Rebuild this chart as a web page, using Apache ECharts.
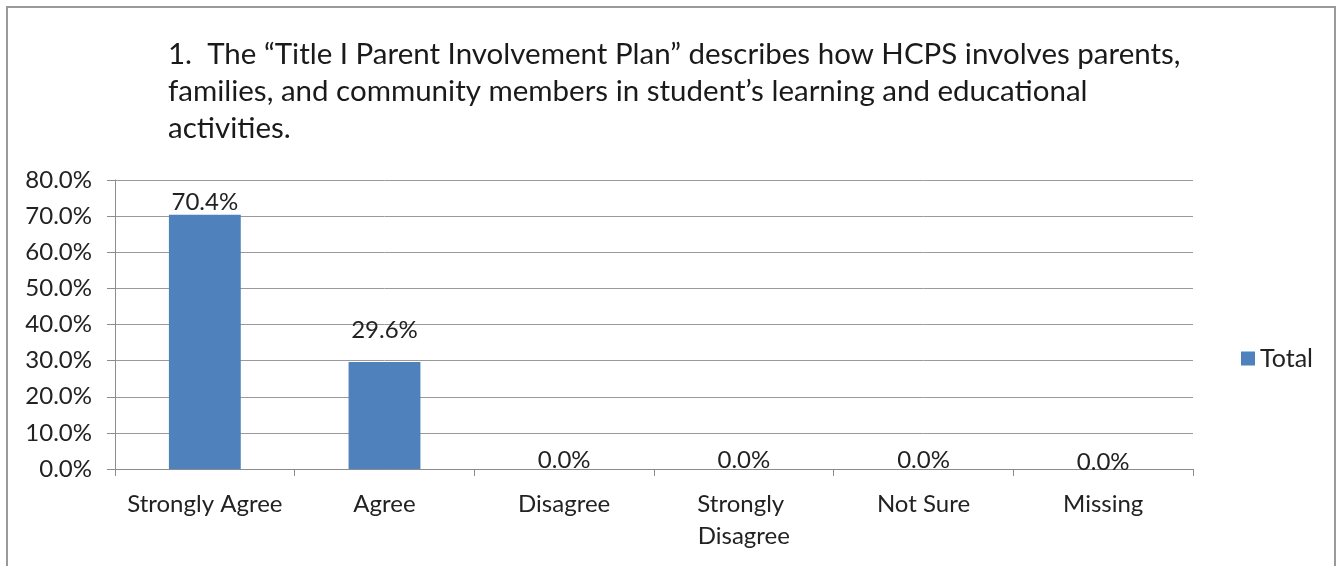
<!DOCTYPE html>
<html>
<head>
<meta charset="utf-8">
<script src="https://cdn.jsdelivr.net/npm/echarts@6/dist/echarts.min.js"></script>
<style>
  html, body { margin: 0; padding: 0; background: #ffffff; }
  #chart { width: 1344px; height: 566px; }
</style>
</head>
<body>
<div id="chart"></div>
<script>
// Survey question 1 responses
const titleLines = [
  '1.  The \u201cTitle I Parent Involvement Plan\u201d describes how HCPS involves parents,',
  'families, and community members in student\u2019s learning and educational',
  'activities.'
];
const categories = ['Strongly Agree', 'Agree', 'Disagree', 'Strongly Disagree', 'Not Sure', 'Missing'];
const totalShare = [0.704, 0.296, 0.0, 0.0, 0.0, 0.0];
const seriesName = 'Total';
// label gap above each bar (px)
const labelGap = [0, 20, -3, -3, -3, -5];

const FONT = 'Lato, "Open Sans", sans-serif';
const pct = v => (v * 100).toFixed(1) + '%';

const chart = echarts.init(document.getElementById('chart'));
chart.setOption({
  animation: false,
  backgroundColor: '#ffffff',
  graphic: [{
    type: 'rect',
    shape: { x: 7, y: 7, width: 1328, height: 600 },
    style: { fill: 'none', stroke: '#9a9a9a', lineWidth: 2 },
    silent: true
  }],
  title: {
    text: titleLines.join('\n'),
    left: 163,
    top: 31,
    textStyle: { fontFamily: FONT, fontSize: 29.5, fontWeight: 'normal', color: '#1a1a1a', lineHeight: 37 }
  },
  legend: {
    data: [seriesName],
    left: 1236,
    top: 341,
    icon: 'rect',
    itemWidth: 14,
    itemHeight: 14,
    itemGap: 6,
    textStyle: { fontFamily: FONT, fontSize: 25, color: '#222' }
  },
  grid: { left: 115, right: 151, top: 180, bottom: 97, containLabel: false },
  xAxis: {
    type: 'category',
    data: categories,
    axisLine: { lineStyle: { color: '#8c8c8c', width: 1 } },
    axisTick: { show: true, length: 7, lineStyle: { color: '#8c8c8c' } },
    axisLabel: {
      fontFamily: FONT, fontSize: 24, color: '#222', margin: 19,
      lineHeight: 32, width: 175, overflow: 'break', interval: 0
    }
  },
  yAxis: {
    type: 'value',
    min: 0,
    max: 0.8,
    interval: 0.1,
    axisLine: { show: true, lineStyle: { color: '#8c8c8c', width: 1 } },
    axisTick: { show: true, length: 8, lineStyle: { color: '#8c8c8c' } },
    splitLine: { lineStyle: { color: '#9a9a9a', width: 1 } },
    axisLabel: { fontFamily: FONT, fontSize: 24, color: '#222', margin: 23, formatter: pct }
  },
  series: [{
    name: seriesName,
    type: 'bar',
    barWidth: '40%',
    itemStyle: { color: '#4f81bd' },
    label: {
      show: true,
      position: 'top',
      fontFamily: FONT,
      fontSize: 24,
      color: '#222',
      formatter: p => pct(p.value)
    },
    data: totalShare.map((v, i) => ({ value: v, label: { distance: labelGap[i] } }))
  }]
});
</script>
</body>
</html>
